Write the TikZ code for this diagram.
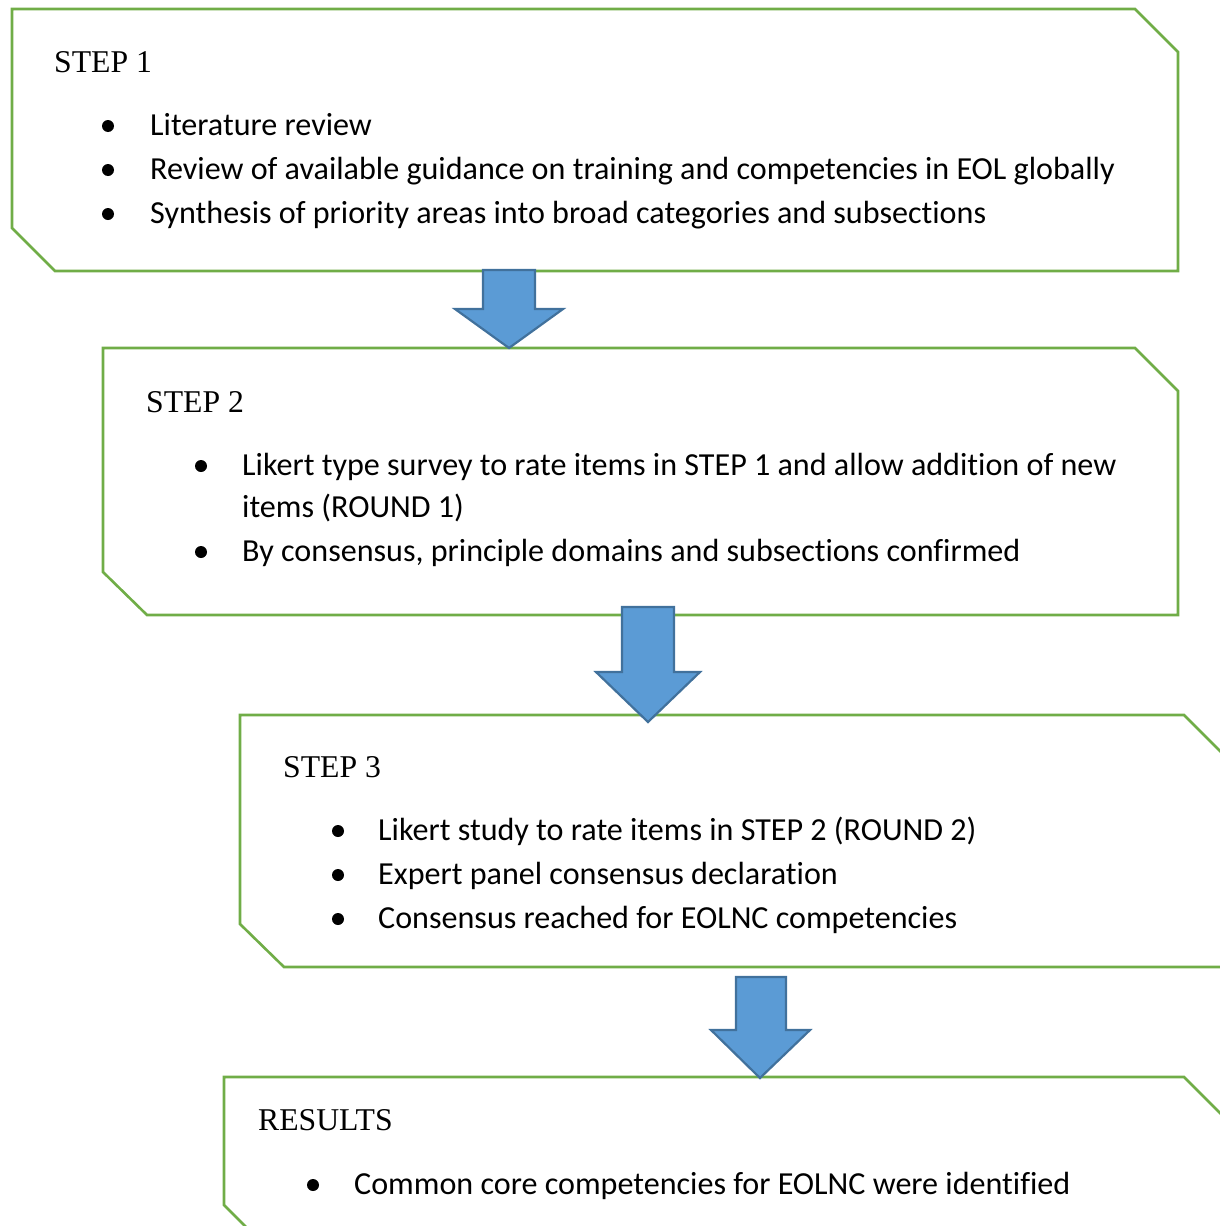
\documentclass[tikz,border=0pt]{standalone}
\usepackage{fontspec}
\setmainfont{Carlito}[RawFeature={-liga;-clig;-calt;-dlig}]
\newfontfamily\headfont{Liberation Serif}
\definecolor{boxgreen}{HTML}{70AD47}
\definecolor{arrfill}{HTML}{5B9BD5}
\definecolor{arrline}{HTML}{41719C}
\begin{document}
\begin{tikzpicture}[x=1pt,y=-1pt,
  boxline/.style={draw=boxgreen,line width=2.6pt,line join=miter},
  blockarrow/.style={draw=arrline,fill=arrfill,line width=2.2pt,line join=miter},
  head/.style={anchor=base west,inner sep=0pt,font=\headfont\fontsize{31.7}{36}\selectfont},
  item/.style={anchor=base west,inner sep=0pt,font=\fontsize{32.1}{38}\selectfont},
  dot/.style={circle,fill=black,inner sep=0pt,minimum size=12pt}]
\useasboundingbox (0,0) rectangle (1220,1226);
\clip (0,0) rectangle (1220,1226);
% boxes
\draw[boxline] (12,9) -- (1135,9) -- (1178,52) -- (1178,271) -- (55,271) -- (12,228) -- cycle;
\draw[boxline] (103,348) -- (1135,348) -- (1178,391) -- (1178,615) -- (147,615) -- (103,572) -- cycle;
\draw[boxline] (240,715) -- (1184,715) -- (1227,758) -- (1227,967) -- (284,967) -- (240,924) -- cycle;
\draw[boxline] (224,1077) -- (1184,1077) -- (1227,1120) -- (1227,1248) -- (267,1248) -- (224,1205) -- cycle;
% arrows
\draw[blockarrow] (483,270) -- (535,270) -- (535,309) -- (563,309) -- (509,348) -- (455,309) -- (483,309) -- cycle;
\draw[blockarrow] (622,607) -- (674,607) -- (674,672) -- (700,672) -- (648,722) -- (596,672) -- (622,672) -- cycle;
\draw[blockarrow] (736,977) -- (786,977) -- (786,1030) -- (810,1030) -- (760,1078) -- (711,1030) -- (736,1030) -- cycle;
% box 1
\node[head] (h1) at (54,72) {STEP 1};
\node[dot] (d11) at (108,126) {};
\node[item] (t11) at (150,135.5) {Literature review};
\node[dot] (d12) at (108,170) {};
\node[item] (t12) at (150,179.5) {Review of available guidance on training and competencies in EOL globally};
\node[dot] (d13) at (108,214) {};
\node[item] (t13) at (150,223.5) {Synthesis of priority areas into broad categories and subsections};
% box 2
\node[head] (h2) at (146,412) {STEP 2};
\node[dot] (d21) at (201,466) {};
\node[item] (t21) at (242,475.5) {Likert type survey to rate items in STEP 1 and allow addition of new};
\node[item] (t21b) at (242,517.5) {items (ROUND 1)};
\node[dot] (d22) at (201,552) {};
\node[item] (t22) at (242,561.5) {By consensus, principle domains and subsections confirmed};
% box 3
\node[head] (h3) at (283,777) {STEP 3};
\node[dot] (d31) at (338,831) {};
\node[item] (t31) at (378,840.5) {Likert study to rate items in STEP 2 (ROUND 2)};
\node[dot] (d32) at (338,875) {};
\node[item] (t32) at (378,884.5) {Expert panel consensus declaration};
\node[dot] (d33) at (338,919) {};
\node[item] (t33) at (378,928.5) {Consensus reached for EOLNC competencies};
% box 4
\node[head] (h4) at (258,1130) {RESULTS};
\node[dot] (d41) at (313,1185) {};
\node[item] (t41) at (354,1194.5) {Common core competencies for EOLNC were identified};
\end{tikzpicture}
\end{document}
